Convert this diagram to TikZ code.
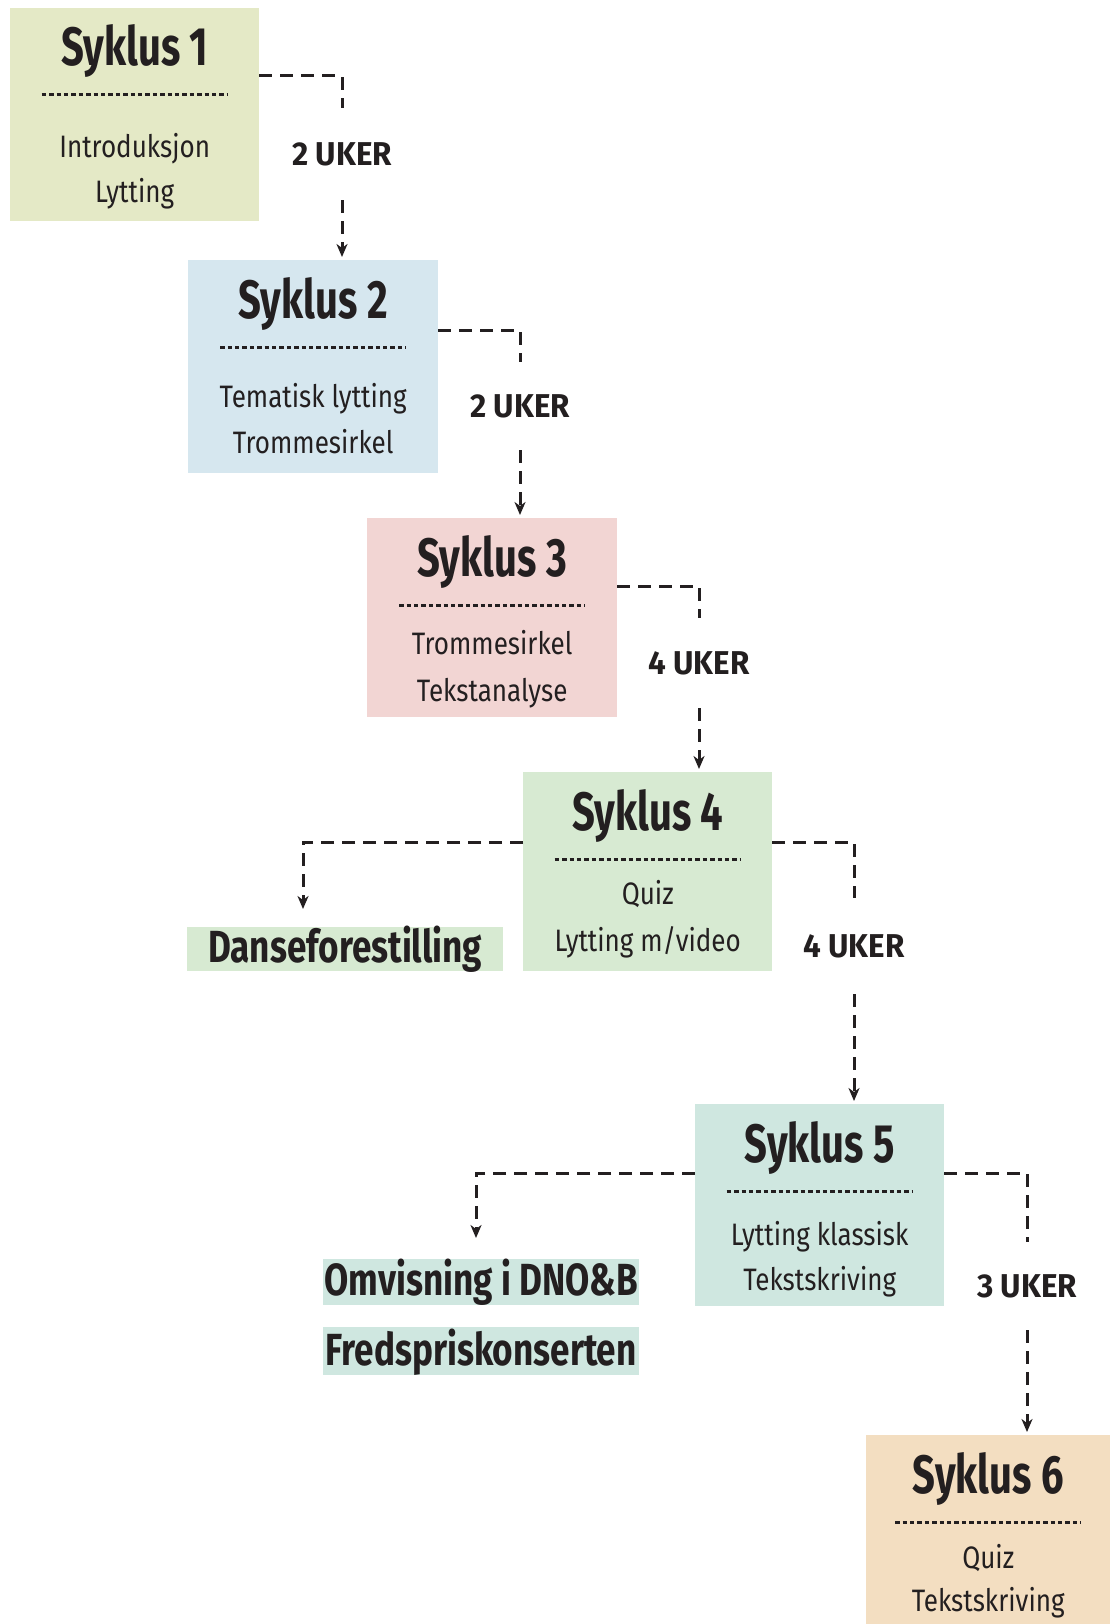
\documentclass[tikz,border=0pt]{standalone}
\usepackage{fontspec}
\setmainfont{Fira Sans}[FakeStretch=0.84]
\newfontfamily\headfont{Fira Sans}[FakeStretch=0.74]
\newfontfamily\eventfont{Fira Sans}[FakeStretch=0.78]
\newfontfamily\ukerfont{Fira Sans}[FakeStretch=0.95]
\usetikzlibrary{arrows.meta,calc}

\definecolor{ink}{HTML}{231F20}
\definecolor{cA}{HTML}{E4E9C6}
\definecolor{cB}{HTML}{D6E7EF}
\definecolor{cC}{HTML}{F2D5D3}
\definecolor{cD}{HTML}{D7EAD2}
\definecolor{cE}{HTML}{CFE7E0}
\definecolor{cF}{HTML}{F3DEC1}

\tikzset{
  cbox/.style={anchor=north west, inner sep=0pt, draw=none},
  titletext/.style={anchor=base, inner sep=0pt, text=ink,
    font=\headfont\bfseries\fontsize{54}{54}\selectfont},
  bodytext/.style={anchor=base, inner sep=0pt, text=ink,
    font=\fontsize{31}{31}\selectfont},
  sidetext/.style={anchor=base, inner sep=0pt, text=ink,
    font=\eventfont\bfseries\fontsize{45}{45}\selectfont},
  ukertext/.style={inner sep=0pt, text=ink, minimum width=110pt,
    font=\ukerfont\bfseries\fontsize{33}{33}\selectfont},
  dotline/.style={ink, line width=3pt, dash pattern=on 4.4pt off 3pt},
  conn/.style={ink, line width=3pt, dash pattern=on 13pt off 8pt},
  tip/.style={-{Stealth[length=13pt,width=11pt,inset=4pt]}},
}

% one cycle box: name, x, y, width, height, colour, number, line 1, line 2;
% \firstoff and \secondoff give the baselines of the two lines below the top edge
\newcommand\syklusbox[9]{%
  \node[cbox, fill=#6, minimum width=#4pt, minimum height=#5pt] (#1) at (#2,#3) {};
  \node[titletext] (#1-t) at ($(#1.north)+(0,58)$) {Syklus #7};
  \draw[dotline] ($(#1.north)+(-93,87)$) -- ($(#1.north)+(93,87)$);
  \node[bodytext] (#1-a) at ($(#1.north)+(0,\firstoff)$) {#8};
  \node[bodytext] (#1-b) at ($(#1.north)+(0,\secondoff)$) {#9};
}

\begin{document}
\begin{tikzpicture}[x=1pt, y=-1pt]
\useasboundingbox (0,0) rectangle (1110,1624);

% cycle boxes
\def\firstoff{150}\def\secondoff{195}
\syklusbox{s1}{10}{8}{249}{213}{cA}{1}{Introduksjon}{Lytting}
\def\firstoff{147}\def\secondoff{193}
\syklusbox{s2}{188}{260}{250}{213}{cB}{2}{Tematisk lytting}{Trommesirkel}
\def\firstoff{136}\def\secondoff{183}
\syklusbox{s3}{367}{518}{250}{199}{cC}{3}{Trommesirkel}{Tekstanalyse}
\def\firstoff{132}\def\secondoff{179}
\syklusbox{s4}{523}{772}{249}{199}{cD}{4}{Quiz}{Lytting m/video}
\def\firstoff{141}\def\secondoff{186}
\syklusbox{s5}{695}{1104}{249}{202}{cE}{5}{Lytting klassisk}{Tekstskriving}
\def\firstoff{133}\def\secondoff{176}
\syklusbox{s6}{866}{1435}{244}{189}{cF}{6}{Quiz}{Tekstskriving}

% events
\node[cbox, fill=cD, minimum width=316pt, minimum height=44pt] (d) at (187,927) {};
\node[sidetext] (d-t) at ($(d.north)+(0,35)$) {Danseforestilling};
\node[cbox, fill=cE, minimum width=316pt, minimum height=46pt] (o) at (323,1259) {};
\node[sidetext] (o-t) at ($(o.north)+(0,36)$) {Omvisning i DNO\&B};
\node[cbox, fill=cE, minimum width=316pt, minimum height=48pt] (f) at (323,1327) {};
\node[sidetext] (f-t) at ($(f.north)+(0,38)$) {Fredspriskonserten};

% duration labels
\node[ukertext, minimum height=92pt] (u1) at (342,154) {2 UKER};
\node[ukertext, minimum height=88pt] (u2) at (520,406) {2 UKER};
\node[ukertext, minimum height=90pt] (u3) at (699,663) {4 UKER};
\node[ukertext, minimum height=96pt] (u4) at (854,946) {4 UKER};
\node[ukertext, minimum height=88pt] (u5) at (1027,1286) {3 UKER};

% entry points of the side branches
\coordinate (d-in) at ($(d.north west)+(116,-18)$);
\coordinate (o-in) at ($(o.north west)+(153,-21)$);

% connectors between cycles
\draw[conn] ($(s1.north east)+(0,68)$) -| (u1.north);
\draw[conn,tip,shorten >=3pt] (u1.south) -- (u1.south |- s2.north);
\draw[conn] ($(s2.north east)+(0,70)$) -| (u2.north);
\draw[conn,tip,shorten >=3pt] (u2.south) -- (u2.south |- s3.north);
\draw[conn] ($(s3.north east)+(0,68)$) -| (u3.north);
\draw[conn,tip,shorten >=3pt] (u3.south) -- (u3.south |- s4.north);
\draw[conn] ($(s4.north east)+(0,70)$) -| (u4.north);
\draw[conn,tip,shorten >=3pt] (u4.south) -- (u4.south |- s5.north);
\draw[conn] ($(s5.north east)+(0,69)$) -| (u5.north);
\draw[conn,tip,shorten >=3pt] (u5.south) -- (u5.south |- s6.north);

% side branches
\draw[conn,tip] ($(s4.north west)+(0,70)$) -| (d-in);
\draw[conn,tip] ($(s5.north west)+(0,69)$) -| (o-in);
\end{tikzpicture}
\end{document}
